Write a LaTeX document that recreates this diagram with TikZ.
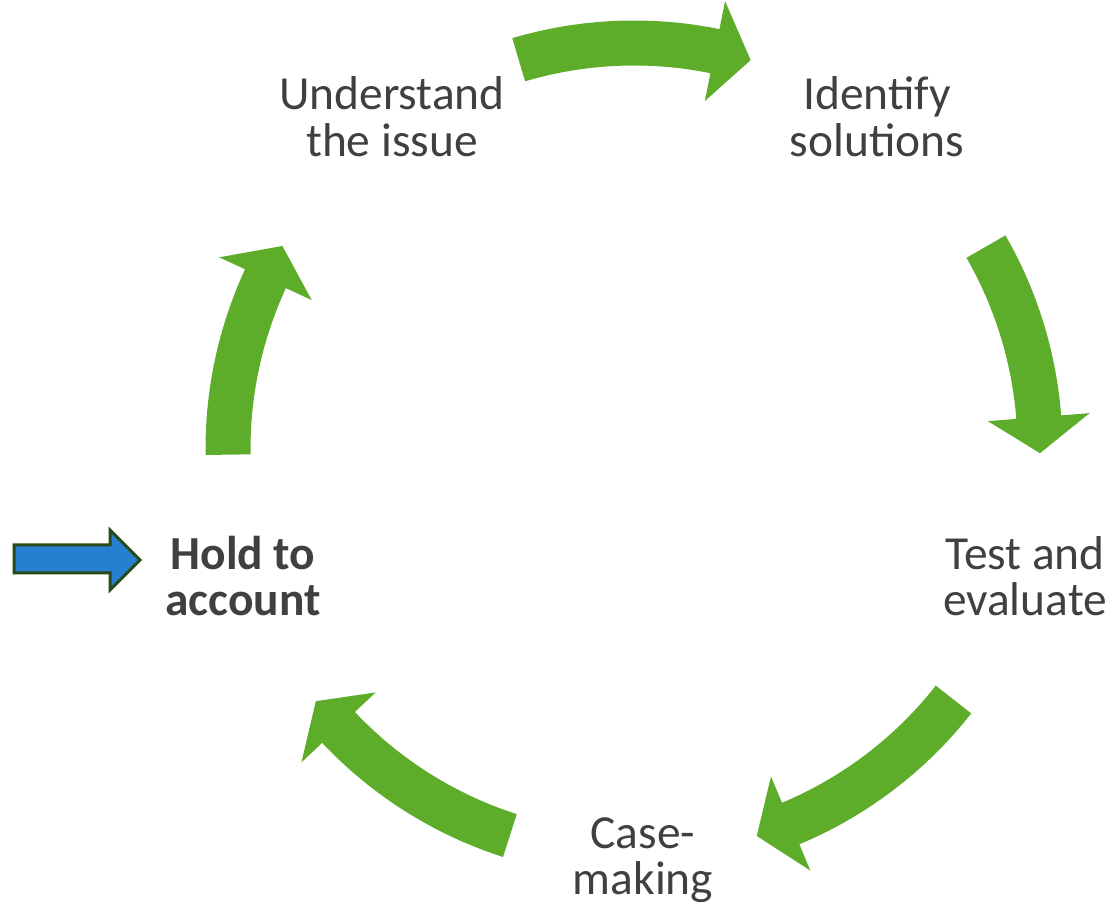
\documentclass[tikz,border=0pt]{standalone}
\usepackage{fontspec}
\setmainfont{Carlito}
\usepackage{xcolor}
\usetikzlibrary{calc}

\definecolor{cycgreen}{RGB}{94,173,42}
\definecolor{entryblue}{RGB}{38,128,210}
\definecolor{entryrim}{RGB}{40,75,25}
\definecolor{textgrey}{RGB}{64,64,64}

% curved cycle arrow: tail angle, head base angle, tip angle
\newcommand{\cycarrow}[3]{%
	\fill[cycgreen] ($(O)+(#1:7.67)$) arc[start angle=#1,end angle=#2,radius=7.67]
		-- ($(O)+(#2:7.10)$) -- ($(O)+(#3:8.12)$) -- ($(O)+(#2:9.14)$)
		-- ($(O)+(#2:8.57)$) arc[start angle=#2,end angle=#1,radius=8.57] -- cycle;}

\begin{document}
\begin{tikzpicture}[
	lbl/.style={align=center,text=textgrey,font=\fontsize{27}{26.5}\selectfont},
	entry/.style={draw=entryrim,fill=entryblue,line width=0.06cm,line join=miter}
	]
		\useasboundingbox (0,0) rectangle (22.28,18.22);
		\coordinate (O) at (12.68,9.24);

		\node[lbl] (U) at (7.84,15.88) {Understand\\the issue};
		\node[lbl] (I) at (17.54,15.88) {Identify\\solutions};
		\node[lbl] (T) at (20.50,6.70) {Test and\\evaluate};
		\node[lbl] (C) at (12.86,1.02) {Case-\\making};
		\node[lbl,font=\fontsize{27}{26.5}\selectfont\bfseries] (H) at (4.86,6.70) {Hold to\\account};
		%
		\cycarrow{106.5}{78.5}{73.3}
		\cycarrow{29.9}{4.5}{-0.6}
		\cycarrow{-38.1}{-67.3}{-72.4}
		\cycarrow{-107.8}{-136.7}{-141.6}
		\cycarrow{180.8}{155.2}{150}
		%
		\coordinate (E) at (2.8,7.02);
		\draw[entry] (0.28,7.32) -- (2.2,7.32) -- (2.2,7.62) -- (E)
			-- (2.2,6.42) -- (2.2,6.76) -- (0.28,6.76) -- cycle;
	\end{tikzpicture}
\end{document}
